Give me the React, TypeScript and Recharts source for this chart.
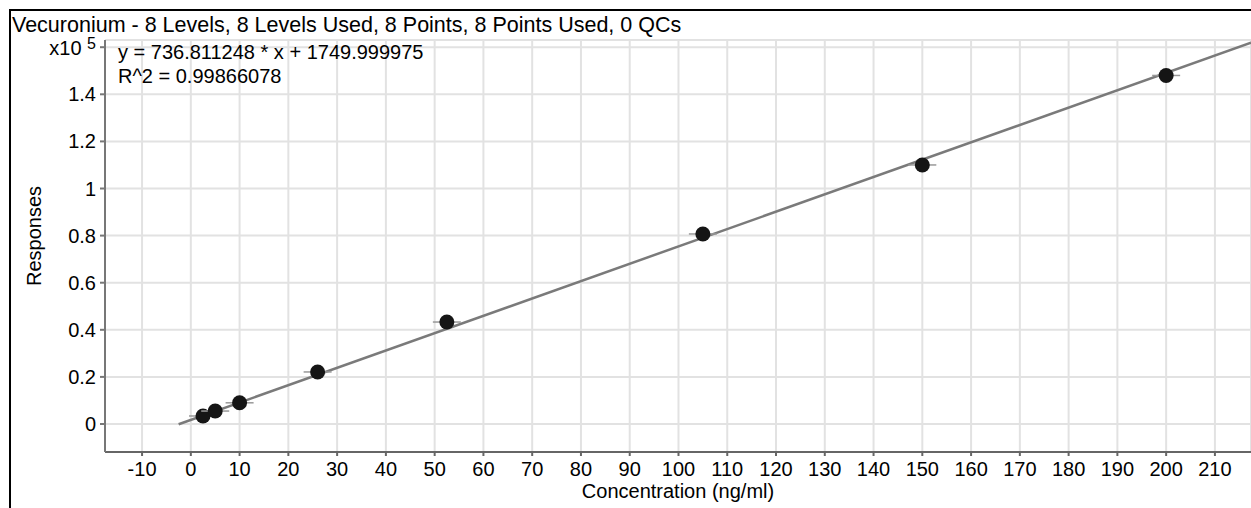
import {
  ComposedChart,
  Scatter,
  Line,
  XAxis,
  YAxis,
  CartesianGrid,
} from "recharts";

// calibration levels (ng/ml) and their responses
const concentrations = [2.5, 5, 10, 26, 52.5, 105, 150, 200];
const responses = [3400, 5500, 9000, 22100, 43300, 80700, 110000, 148000];

// fitted line, read at its visible ends
const fitX = [-2.5, 217.4];
const fitY = [-100, 161900];

const xTicks = [-10, 0, 10, 20, 30, 40, 50, 60, 70, 80, 90, 100, 110, 120, 130, 140, 150, 160, 170, 180, 190, 200, 210];
const yTicks = [0, 20000, 40000, 60000, 80000, 100000, 120000, 140000, 160000];

const title = "Vecuronium - 8 Levels, 8 Levels Used, 8 Points, 8 Points Used, 0 QCs";
const equation = "y = 736.811248 * x + 1749.999975";
const rSquared = "R^2 = 0.99866078";

const points = concentrations.map((x, i) => ({ x, y: responses[i] }));
const fit = fitX.map((x, i) => ({ x, y: fitY[i] }));

const font = '"Liberation Sans", Arial, sans-serif';

function PointShape(props: any) {
  const { cx, cy } = props;
  if (cx == null || cy == null) return null;
  return (
    <g>
      <line x1={cx - 14} x2={cx + 14} y1={cy} y2={cy} stroke="#999" strokeWidth={1.5} />
      <circle cx={cx} cy={cy} r={7.5} fill="#151515" />
    </g>
  );
}

function YTick(props: any) {
  const { x, y, payload } = props;
  if (payload.value === 160000) {
    // the top label carries the axis multiplier instead of a value
    return (
      <text x={x} y={y + 8} textAnchor="end" fontSize={20} fontFamily={font} fill="#000">
        <tspan>x10 </tspan>
        <tspan dy={-6} fontSize={16}>5</tspan>
      </text>
    );
  }
  return (
    <text x={x} y={y} dy={7} textAnchor="end" fontSize={20} fontFamily={font} fill="#000">
      {String(payload.value / 100000)}
    </text>
  );
}

function YLabel(props: any) {
  const vb = props.viewBox;
  const lx = vb.x + 31;
  const ly = 236;
  return (
    <text x={lx} y={ly} transform={`rotate(-90, ${lx}, ${ly})`} textAnchor="middle" fontSize={20} fontFamily={font} fill="#000">
      Responses
    </text>
  );
}

export default function App() {
  return (
    <div style={{ position: "absolute", left: 0, top: 0, width: 1251, height: 508, overflow: "hidden", background: "#fff", fontFamily: font }}>
      <div
        style={{
          position: "absolute",
          left: 9,
          top: 9,
          width: 1300,
          height: 600,
          borderLeft: "2px solid #000",
          borderTop: "2px solid #000",
        }}
      />
      <ComposedChart
        width={1251}
        height={508}
        margin={{ top: 40, right: 0, bottom: 10, left: 10 }}
        style={{ position: "absolute", left: 0, top: 0 }}
      >
        <CartesianGrid stroke="#e2e2e2" strokeWidth={2} />
        <XAxis
          type="number"
          dataKey="x"
          domain={[-17.6, 217.4]}
          ticks={xTicks}
          allowDataOverflow
          height={46}
          tick={{ fontSize: 20, fontFamily: font, fill: "#000" }}
          tickSize={4}
          tickMargin={6}
          stroke="#666"
          strokeWidth={2}
          label={{ value: "Concentration (ng/ml)", position: "insideBottom", offset: 0, fontSize: 20, fontFamily: font, fill: "#000" }}
        />
        <YAxis
          type="number"
          dataKey="y"
          domain={[-11890, 163060]}
          ticks={yTicks}
          allowDataOverflow
          width={95}
          tick={<YTick />}
          tickSize={5}
          tickMargin={4}
          stroke="#777"
          strokeWidth={2}
          label={<YLabel />}
        />
        <Line
          data={fit}
          dataKey="y"
          type="linear"
          stroke="#7a7a7a"
          strokeWidth={2.5}
          dot={false}
          activeDot={false}
          isAnimationActive={false}
        />
        <Scatter data={points} dataKey="y" shape={<PointShape />} isAnimationActive={false} />
      </ComposedChart>
      <div style={{ position: "absolute", left: 12, top: 16, fontSize: 21.5, color: "#000", lineHeight: "18px", whiteSpace: "nowrap" }}>{title}</div>
      <div style={{ position: "absolute", left: 118, top: 42, fontSize: 20, color: "#000", lineHeight: "20px" }}>{equation}</div>
      <div style={{ position: "absolute", left: 118, top: 66, fontSize: 20, color: "#000", lineHeight: "20px" }}>{rSquared}</div>
    </div>
  );
}
